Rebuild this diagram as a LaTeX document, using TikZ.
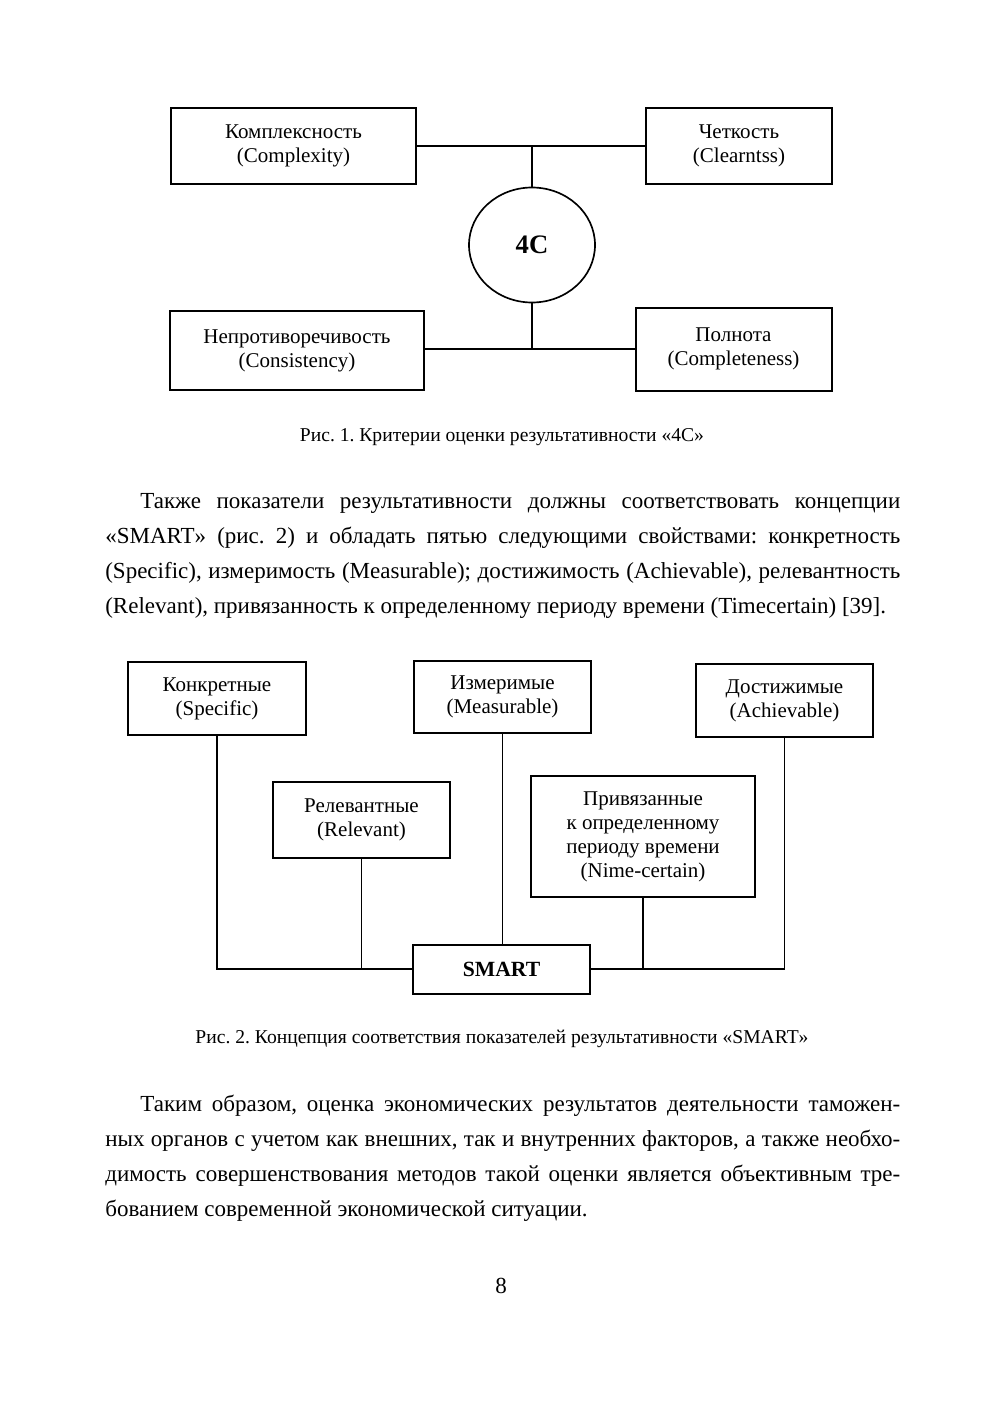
\documentclass[tikz,border=0pt]{standalone}
\usepackage{fontspec}
\setmainfont{Liberation Serif}
\usepackage{tikz}
\usetikzlibrary{shapes.geometric,positioning}
\frenchspacing
\newcommand{\diagfont}{\fontsize{12.6}{14.4}\selectfont}
\newcommand{\paratext}{\fontsize{13.8}{21}\selectfont}
\newcommand{\figcapfont}{\fontsize{11.75}{14}\selectfont}
\tikzstyle{crit} = [rectangle, draw=black, line width=1.2pt, align=center, inner sep=2pt, font=\diagfont]
\tikzstyle{core} = [ellipse, draw=black, line width=1pt, inner sep=0pt, font=\bfseries\fontsize{16}{18}\selectfont]
\tikzstyle{link} = [line width=0.9pt]
\tikzstyle{figcap} = [inner sep=0pt, font=\figcapfont]
\tikzstyle{body} = [text width=477pt, align=justify, inner sep=0pt, anchor=base west, font=\paratext]

\begin{document}
\begin{tikzpicture}[x=0.6pt, y=-0.6pt]
\useasboundingbox[fill=white] (0,0) rectangle (1005,1417);
% figure 1: 4C
\node (kompl) [crit, minimum width=147pt, minimum height=45.6pt] at (293.5,146) {Комплексность\\(Complexity)};
\node (chet) [crit, minimum width=111.6pt, minimum height=45.6pt] at (739,146) {Четкость\\(Clearntss)};
\node (c4) [core, minimum width=75.6pt, minimum height=69pt] at (532,245) {4С};
\node (neprot) [crit, minimum width=152.4pt, minimum height=47.4pt] at (297,350.5) {Непротиворечивость\\(Consistency)};
\node (poln) [crit, minimum width=117.6pt, minimum height=49.8pt] at (733.5,349) {Полнота\\(Completeness)};
\draw [link] (kompl) -- (chet);
\draw [link] (c4) -- (c4 |- kompl);
\draw [link] (neprot.east |- poln) -- (poln);
\draw [link] (c4) -- (c4 |- poln);
\node (cap1) [figcap] at (502,437) {Рис. 1. Критерии оценки результативности «4С»};

% text between the figures
\node (para1) [body] at (105,508) {\hspace*{21pt}Также показатели результативности должны соответствовать концепции\linebreak
«SMART» (рис. 2) и обладать пятью следующими свойствами: конкретность\linebreak
(Specific), измеримость (Measurable); достижимость (Achievable), релевантность\linebreak
(Relevant), привязанность к определенному периоду времени (Timecertain) [39].};

% figure 2: SMART
\node (konk) [crit, minimum width=106.8pt, minimum height=43.8pt] at (217,698.5) {Конкретные\\(Specific)};
\node (izm) [crit, minimum width=106.2pt, minimum height=43.2pt] at (502.5,697) {Измеримые\\(Measurable)};
\node (dost) [crit, minimum width=106.2pt, minimum height=43.8pt] at (784.5,700.5) {Достижимые\\(Achievable)};
\node (rel) [crit, minimum width=106.2pt, minimum height=45.6pt] at (361.5,820) {Релевантные\\(Relevant)};
\node (priv) [crit, minimum width=134.4pt, minimum height=72.6pt] at (643,836.5) {Привязанные\\к определенному\\периоду времени\\(Nime-certain)};
\node (smart) [crit, font=\bfseries\fontsize{13}{15}\selectfont, minimum width=106.2pt, minimum height=29.4pt] at (501.5,969) {SMART};
\draw [link] (konk) |- (smart);
\draw [link] (rel) -- (rel |- smart);
\draw [link] (izm) -- (izm |- smart.north);
\draw [link] (priv) -- (priv |- smart);
\draw [link] (dost) |- (smart);
\node (cap2) [figcap] at (502,1039) {Рис. 2. Концепция соответствия показателей результативности «SMART»};

\node (para2) [body] at (105,1111) {\hspace*{21pt}Таким образом, оценка экономических результатов деятельности таможен-\linebreak
ных органов с учетом как внешних, так и внутренних факторов, а также необхо-\linebreak
димость совершенствования методов такой оценки является объективным тре-\linebreak
бованием современной экономической ситуации.};

\node (pagenum) [figcap, font=\paratext] at (501,1286) {8};
\end{tikzpicture}
\end{document}
